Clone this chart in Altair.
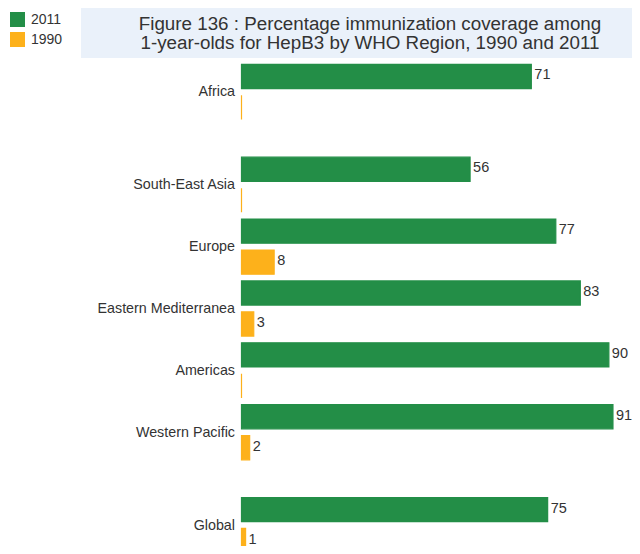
import altair as alt
import pandas as pd

regions = ["Africa", "South-East Asia", "Europe", "Eastern Mediterranea",
           "Americas", "Western Pacific", "Global"]
cov_2011 = [71, 56, 77, 83, 90, 91, 75]
cov_1990 = [0, 0, 8, 3, 0, 2, 1]
years = ["2011", "1990"]
gap_after = ["Africa", "Western Pacific"]
colors = ["#238E47", "#FDB11B"]
title_lines = ["Figure 136 : Percentage immunization coverage among",
               "1-year-olds for HepB3 by WHO Region, 1990 and 2011"]

rows = []
row_order = []
for i, r in enumerate(regions):
    rows.append({"row": r, "region": r, "year": "2011", "value": cov_2011[i]})
    rows.append({"row": r + "|1990", "region": r, "year": "1990", "value": cov_1990[i]})
    row_order += [r, r + "|1990"]
    if r in gap_after:
        row_order.append("|gap" + str(i))
df = pd.DataFrame(rows)

FONT = "Liberation Sans"
TXT = "#333333"

y_enc = alt.Y("row:N",
              scale=alt.Scale(domain=row_order, range=[0, 495],
                              paddingInner=0.22, paddingOuter=0.11),
              axis=alt.Axis(title=None, domain=False, ticks=False, labelPadding=7,
                            labelFontSize=14.3, labelFont=FONT, labelColor=TXT,
                            labelOffset=16,
                            labelExpr="indexof(datum.label, '|') >= 0 ? '' : datum.label"))
x_enc = alt.X("value:Q", scale=alt.Scale(domain=[0, 94], nice=False), axis=None)

color_scale = alt.Scale(domain=years, range=colors)

bg = alt.Chart(alt.Data(values=[{}])).mark_rect(color="#EAF1FA").encode(
    x=alt.value(-160.5), x2=alt.value(390.5), y=alt.value(-53), y2=alt.value(-3)
)

t1 = alt.Chart(alt.Data(values=[{"t": title_lines[0]}])).mark_text(
    align="center", baseline="alphabetic", fontSize=18.8, font=FONT, color=TXT
).encode(x=alt.value(128.5), y=alt.value(-31), text="t:N")

t2 = alt.Chart(alt.Data(values=[{"t": title_lines[1]}])).mark_text(
    align="center", baseline="alphabetic", fontSize=18.8, font=FONT, color=TXT
).encode(x=alt.value(128.5), y=alt.value(-12), text="t:N")

bars = alt.Chart(df).mark_bar(strokeWidth=1.2).encode(
    y=y_enc, x=x_enc,
    color=alt.Color("year:N", scale=color_scale, sort=years,
                    legend=alt.Legend(title=None, orient="none", legendX=-231.5, legendY=-49,
                                      symbolType="square", symbolSize=225, symbolStrokeWidth=0,
                                      labelFontSize=14, labelFont=FONT, labelColor=TXT,
                                      labelOffset=6, rowPadding=5, padding=0)),
    stroke=alt.Stroke("year:N", scale=color_scale, legend=None),
)

labels = alt.Chart(df).transform_filter("datum.value > 0").mark_text(
    align="left", baseline="middle", dx=3, dy=-1, fontSize=14.5, font=FONT, color=TXT
).encode(y=y_enc, x=x_enc, text="value:Q")

chart = alt.layer(bg, t1, t2, bars, labels).properties(
    width=383.7, height=485,
    autosize=alt.AutoSizeParams(type="none"),
    padding={"left": 233.5, "top": 53, "right": 6.8, "bottom": 0},
).configure_view(stroke=None)

chart.save("out.html", embed_options={"renderer": "svg", "actions": False})
